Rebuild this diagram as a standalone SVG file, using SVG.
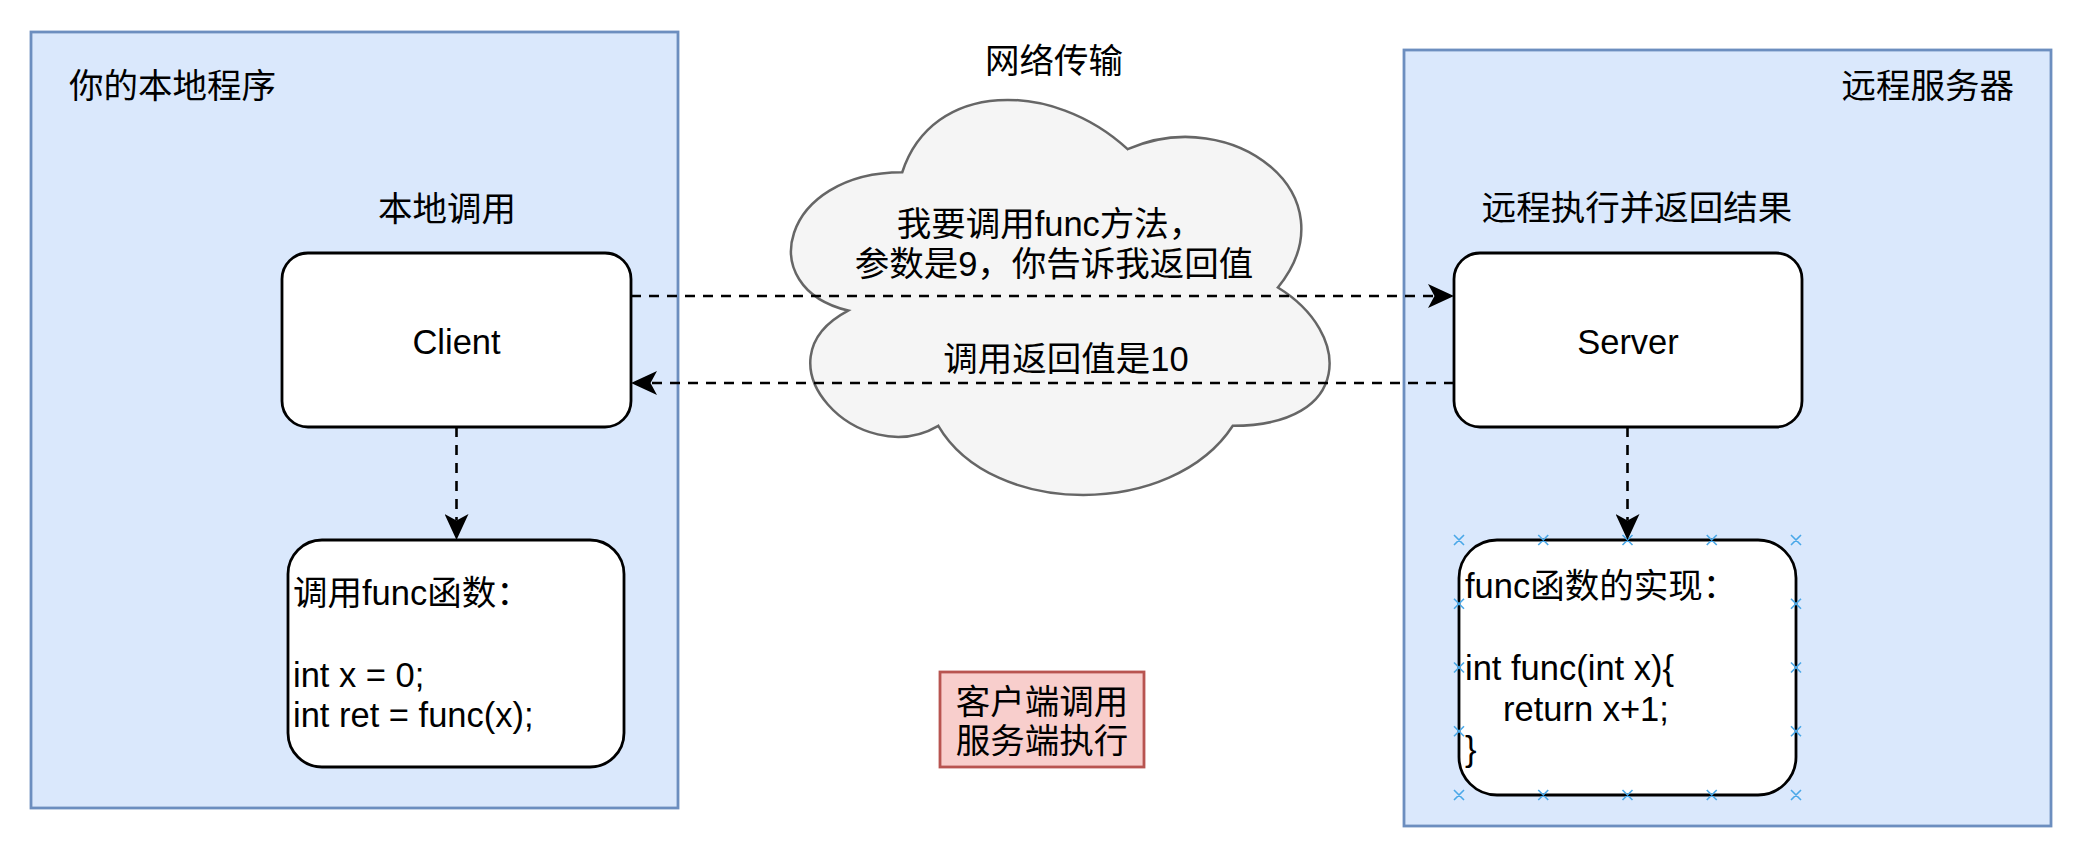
<svg xmlns="http://www.w3.org/2000/svg" width="2088" height="858" viewBox="0 0 2088 858">
<style>
text{font-family:"Liberation Sans","Noto Sans CJK SC",sans-serif;font-size:34.5px;fill:#000}
.c{text-anchor:middle}
.cont{fill:#dae8fc;stroke:#6c8ebf;stroke-width:2.8}
.box{fill:#fff;stroke:#000;stroke-width:2.8}
.edge{fill:none;stroke:#000;stroke-width:2.6;stroke-dasharray:10 8}
.mk{stroke:#4aa8e8;stroke-width:1.6;fill:none}
</style>
<defs>
<marker id="arr" viewBox="0 0 26 24" refX="6.5" refY="12" markerWidth="26" markerHeight="24" markerUnits="userSpaceOnUse" orient="auto">
<path d="M26,12 L0,0 L6.5,12 L0,24 Z" fill="#000"/>
</marker>
</defs>
<g id="local-program">
<rect class="cont" x="31" y="32" width="647" height="776"/>
<text x="69" y="98">你的本地程序</text>
</g>
<g id="remote-server">
<rect class="cont" x="1404" y="50" width="647" height="776"/>
<text x="2014" y="98" text-anchor="end">远程服务器</text>
</g>
<g id="network">
<text class="c" x="1054" y="73">网络传输</text>
<path d="M902.25,172.25 C782.05,172.25 752,287.5 848.16,310.55 C752,361.26 860.18,471.9 938.31,425.8 C992.4,518 1172.7,518 1232.8,425.8 C1353,425.8 1353,333.6 1277.88,287.5 C1353,195.3 1232.8,103.1 1127.63,149.2 C1052.5,80.05 932.3,80.05 902.25,172.25 Z" fill="#f5f5f5" stroke="#666" stroke-width="2.5"/>
</g>
<g id="client">
<text class="c" x="447" y="221">本地调用</text>
<rect class="box" x="282" y="253" width="349" height="174" rx="26" ry="26"/>
<text class="c" x="456.5" y="354">Client</text>
</g>
<g id="server">
<text class="c" x="1637" y="220">远程执行并返回结果</text>
<rect class="box" x="1454" y="253" width="348" height="174" rx="26" ry="26"/>
<text class="c" x="1628" y="354">Server</text>
</g>
<g id="local-func">
<rect class="box" x="288" y="540" width="336" height="227" rx="34" ry="34"/>
<text x="293" y="605">调用func函数：</text>
<text x="293" y="687">int x = 0;</text>
<text x="293" y="727">int ret = func(x);</text>
</g>
<g id="server-func">
<rect class="box" x="1459" y="540" width="337" height="255" rx="38" ry="38"/>
<text x="1465" y="598">func函数的实现：</text>
<text x="1465" y="680">int func(int x){</text>
<text x="1503" y="721">return x+1;</text>
<text x="1465" y="761">}</text>
<g class="mk">
<path d="M1454,535 l10,10 m0,-10 l-10,10 M1538.25,535 l10,10 m0,-10 l-10,10 M1622.5,535 l10,10 m0,-10 l-10,10 M1706.75,535 l10,10 m0,-10 l-10,10 M1791,535 l10,10 m0,-10 l-10,10"/>
<path d="M1454,790 l10,10 m0,-10 l-10,10 M1538.25,790 l10,10 m0,-10 l-10,10 M1622.5,790 l10,10 m0,-10 l-10,10 M1706.75,790 l10,10 m0,-10 l-10,10 M1791,790 l10,10 m0,-10 l-10,10"/>
<path d="M1454,598.75 l10,10 m0,-10 l-10,10 M1454,662.5 l10,10 m0,-10 l-10,10 M1454,726.25 l10,10 m0,-10 l-10,10"/>
<path d="M1791,598.75 l10,10 m0,-10 l-10,10 M1791,662.5 l10,10 m0,-10 l-10,10 M1791,726.25 l10,10 m0,-10 l-10,10"/>
</g>
</g>
<g id="connectors">
<line class="edge" x1="631" y1="296" x2="1434.5" y2="296" marker-end="url(#arr)"/>
<line class="edge" x1="1454" y1="383" x2="650.5" y2="383" marker-end="url(#arr)"/>
<line class="edge" x1="456.5" y1="427" x2="456.5" y2="520.5" marker-end="url(#arr)"/>
<line class="edge" x1="1627.5" y1="427" x2="1627.5" y2="520.5" marker-end="url(#arr)"/>
</g>
<g id="cloud-text">
<text class="c" x="1050" y="236">我要调用func方法，</text>
<text class="c" x="1054" y="276">参数是9，你告诉我返回值</text>
<text class="c" x="1066" y="371">调用返回值是10</text>
</g>
<g id="note">
<rect x="940" y="672" width="204" height="95" fill="#f8cecc" stroke="#b85450" stroke-width="2.8"/>
<text class="c" x="1042" y="714">客户端调用</text>
<text class="c" x="1042" y="753">服务端执行</text>
</g>
</svg>
